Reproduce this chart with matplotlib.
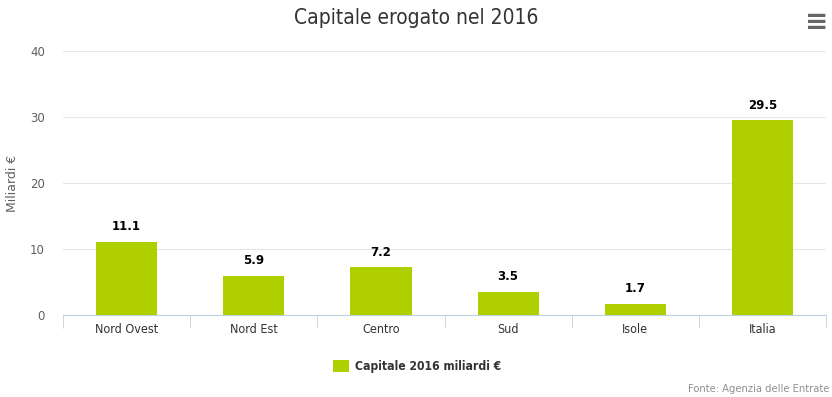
import matplotlib.pyplot as plt
from matplotlib.patches import Rectangle
import numpy as np

plt.rcParams['font.family'] = ['DejaVu Sans']
plt.rcParams['font.stretch'] = 'condensed'

regioni = ['Nord Ovest', 'Nord Est', 'Centro', 'Sud', 'Isole', 'Italia']
capitale = [11.1, 5.9, 7.2, 3.5, 1.7, 29.5]
y_ticks = [0, 10, 20, 30, 40]

verde = '#b0cf00'
grigio = '#606060'

fig = plt.figure(figsize=(8.32, 3.97), dpi=100)
ax = fig.add_axes([0.0757, 0.2065, 0.9173, 0.665])

x = np.arange(len(regioni))
ax.bar(x, capitale, width=0.48, color=verde, zorder=3)
for xi, v in zip(x, capitale):
    ax.text(xi, v + 1.3, f'{v:.1f}', ha='center', va='bottom', fontsize=8.5,
            fontweight='bold', color='black', fontstretch='normal')

ax.set_xlim(-0.5, len(regioni) - 0.5)
ax.set_ylim(0, 40)
ax.set_yticks(y_ticks)
ax.set_yticklabels([str(t) for t in y_ticks], fontsize=8.5, color=grigio,
                   fontstretch='normal')
ax.tick_params(axis='y', length=0, pad=13)
ax.yaxis.grid(True, color='#e6e6e6', linewidth=0.8, zorder=0)

ax.set_xticks(x)
ax.set_xticklabels(regioni, fontsize=9, color='#333333')
ax.tick_params(axis='x', length=0, pad=6)
ax.set_xticks(np.arange(-0.5, len(regioni)), minor=True)
ax.tick_params(axis='x', which='minor', length=9, color='#c0d0e0', direction='out')

for s in ['top', 'right', 'left']:
    ax.spines[s].set_visible(False)
ax.spines['bottom'].set_color('#c0d0e0')

ax.set_ylabel('Miliardi €', fontsize=9, color=grigio, fontstretch='normal')
ax.yaxis.set_label_coords(-0.058, 0.5)

fig.text(0.5, 0.955, 'Capitale erogato nel 2016', ha='center', va='center',
         fontsize=15, color='#333333')
fig.text(0.981, 0.945, '≡', ha='center', va='center', fontsize=20,
         color='#666666', fontstretch='normal', fontweight='bold')

# legenda
fig.patches.append(Rectangle((0.4003, 0.063), 0.0192, 0.030, transform=fig.transFigure,
                             facecolor=verde, edgecolor='none'))
fig.text(0.4267, 0.078, 'Capitale 2016 miliardi €', ha='left', va='center',
         fontsize=8.7, fontweight='bold', color='#333333')

fig.text(0.997, 0.02, 'Fonte: Agenzia delle Entrate', ha='right', va='center',
         fontsize=8, color='#909090')

fig.savefig('out.png', dpi=100)
